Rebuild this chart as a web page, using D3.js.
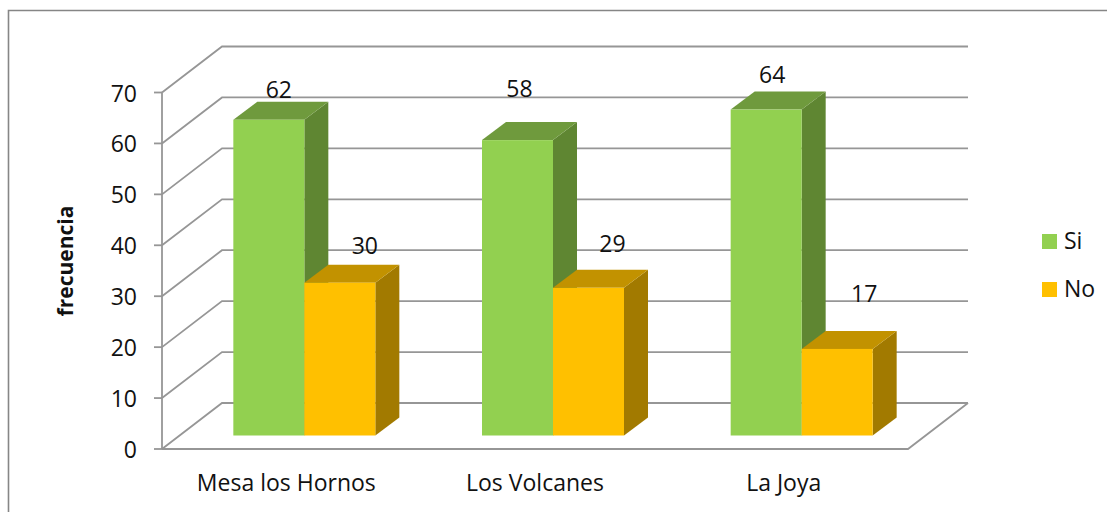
<!DOCTYPE html>
<html lang="es">
<head>
<meta charset="utf-8">
<title>Frecuencia por localidad</title>
<script src="https://cdn.jsdelivr.net/npm/d3@7/dist/d3.min.js"></script>
<style>
  html, body { margin: 0; padding: 0; background: #fff; overflow: hidden; }
  svg { display: block; }
  text { font-family: "Open Sans", "Noto Sans", sans-serif; fill: #111; }
</style>
</head>
<body>
<svg id="chart" width="1107" height="512"></svg>
<script>
// Survey counts per locality
const categories = ["Mesa los Hornos", "Los Volcanes", "La Joya"];
const seriesNames = ["Si", "No"];
const siValues = [62, 58, 64];
const noValues = [30, 29, 17];
const yTicks = [0, 10, 20, 30, 40, 50, 60, 70];

const seriesValues = { Si: siValues, No: noValues };
const colours = {
  Si: { front: "#92d050", top: "#6f9a3d", side: "#5f8632" },
  No: { front: "#ffc000", top: "#c29200", side: "#a27a00" }
};

const svg = d3.select("#chart");

// Front plane of the oblique box and the shift to its back wall
const frontLeft = 162, frontRight = 908;
const wallDx = 60, wallDy = -46;
const barDx = 24, barDy = -18;
const barLift = 13.5;
const gridColour = "#969696";
const labelSize = 23;

const y = d3.scaleLinear().domain([0, 70]).range([449, 92.5]);
const x0 = d3.scaleBand().domain(categories).range([frontLeft + 18, frontRight + 18]);
const groupWidth = 142;
const x1 = d3.scaleBand().domain(seriesNames).range([0, groupWidth]);
const groupLeft = c => x0(c) + (x0.bandwidth() - groupWidth) / 2;

// Outer chart frame
svg.append("path")
  .attr("d", "M8.5,512V10.5H1107")
  .attr("fill", "none").attr("stroke", "#868686").attr("stroke-width", 1.6);

// Back wall gridlines with their oblique returns to the value axis
const grid = svg.append("g").attr("fill", "none")
  .attr("stroke", gridColour).attr("stroke-width", 1.8);
grid.selectAll("path.wall").data(yTicks).join("path").attr("class", "wall")
  .attr("d", t => `M${frontLeft},${y(t)}L${frontLeft + wallDx},${y(t) + wallDy}H${frontRight + wallDx}`);

// Floor front edge, value axis and tick marks
grid.append("path")
  .attr("d", `M${frontLeft},${y(0)}H${frontRight}L${frontRight + wallDx},${y(0) + wallDy}`);
grid.append("path")
  .attr("d", `M${frontLeft},${y(0)}V${y(70)}`);
grid.selectAll("line").data(yTicks).join("line")
  .attr("x1", frontLeft - 8).attr("x2", frontLeft)
  .attr("y1", t => y(t)).attr("y2", t => y(t));

// Value axis labels
svg.append("g").selectAll("text").data(yTicks).join("text")
  .attr("x", 137).attr("y", t => y(t) + 1)
  .attr("dy", "0.35em").attr("text-anchor", "end")
  .attr("font-size", labelSize).text(d => d);

svg.append("text")
  .attr("transform", "translate(66,261) rotate(-90)")
  .attr("text-anchor", "middle").attr("dy", "0.35em")
  .attr("font-size", 21).attr("font-weight", 700).text("frecuencia");

// Category labels
svg.append("g").selectAll("text").data(categories).join("text")
  .attr("x", c => x0(c) + x0.bandwidth() / 2 - 18)
  .attr("y", 491).attr("text-anchor", "middle")
  .attr("font-size", labelSize).text(d => d);

// Bars: each is a front face, a top face and a side face
const bars = categories.flatMap((c, i) =>
  seriesNames.map(s => ({ category: c, series: s, value: seriesValues[s][i] })));

const barGroups = svg.append("g").selectAll("g").data(bars).join("g");
const bx = d => groupLeft(d.category) + x1(d.series);
const bw = x1.bandwidth();
const barTop = d => y(d.value) - barLift;
const barBase = y(0) - barLift;

barGroups.append("path").attr("fill", d => colours[d.series].side)
  .attr("d", d => `M${bx(d) + bw},${barTop(d)}l${barDx},${barDy}V${barBase + barDy}l${-barDx},${-barDy}Z`);
barGroups.append("path").attr("fill", d => colours[d.series].top)
  .attr("d", d => `M${bx(d)},${barTop(d)}l${barDx},${barDy}h${bw}l${-barDx},${-barDy}Z`);
barGroups.append("rect").attr("fill", d => colours[d.series].front)
  .attr("x", bx).attr("y", barTop).attr("width", bw).attr("height", d => barBase - barTop(d));

// Value labels, nudged off the bars the way they were placed by hand
const labelNudge = {
  "Mesa los Hornos": { Si: [10, -30], No: [25, -37] },
  "Los Volcanes": { Si: [2, -51], No: [24, -44] },
  "La Joya": { Si: [6, -35], No: [27, -55] }
};
svg.append("g").selectAll("text").data(bars).join("text")
  .attr("x", d => bx(d) + bw / 2 + labelNudge[d.category][d.series][0])
  .attr("y", d => barTop(d) + labelNudge[d.category][d.series][1])
  .attr("dy", "0.35em").attr("text-anchor", "middle")
  .attr("font-size", labelSize).text(d => d.value);

// Legend
const legend = svg.append("g").selectAll("g").data(seriesNames).join("g")
  .attr("transform", (d, i) => `translate(1042,${234 + i * 48})`);
legend.append("rect").attr("width", 15).attr("height", 15)
  .attr("fill", d => colours[d].front);
legend.append("text").attr("x", 22).attr("y", 7)
  .attr("dy", "0.35em").attr("font-size", labelSize).text(d => d);
</script>
</body>
</html>
